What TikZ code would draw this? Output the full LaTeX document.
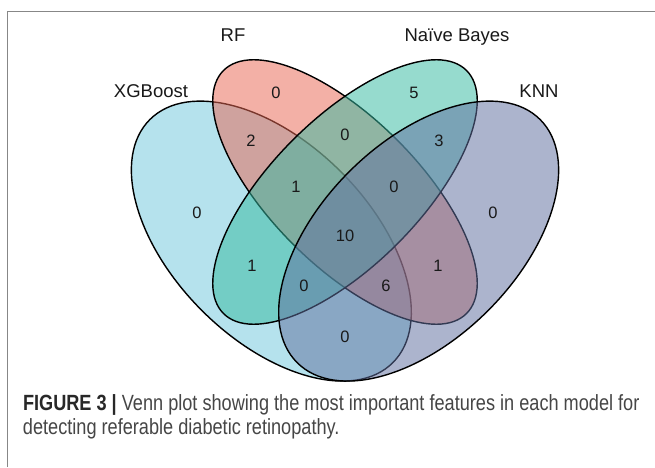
\documentclass[tikz,border=0pt]{standalone}
\usepackage{fontspec}
\setmainfont{Liberation Sans}
\newfontfamily\capfont[FakeStretch=0.825]{Liberation Sans}
\usepackage{color}
\usepackage{xcolor}
\usepackage{tikz}

\begin{document}
\begin{tikzpicture}[x=1pt,y=1pt,
  vset/.style={draw=drawColor,line width=1.4pt,line join=round,fill opacity=0.52},
  vlab/.style={text=drawColor,anchor=base,inner sep=0pt,outer sep=0pt,font=\fontsize{18.5}{20}\selectfont},
  vnum/.style={text=drawColor,inner sep=0pt,outer sep=0pt,font=\fontsize{16.5}{18}\selectfont}]
\definecolor{fillColor}{RGB}{255,255,255}
\path[use as bounding box,fill=fillColor] (0,0) rectangle (655,467);
\definecolor{frameColor}{RGB}{135,135,135}

\path[draw=frameColor,line width=1.5pt] (  7.50,  0.00) -- (  7.50,455.50) -- (655.00,455.50);
\begin{scope}
\definecolor{drawColor}{RGB}{0,0,0}
\definecolor{xgbColor}{RGB}{115,201,221}
\definecolor{rfColor}{RGB}{232,105,86}
\definecolor{nbColor}{RGB}{55,186,162}
\definecolor{knnColor}{RGB}{97,113,160}

\path[vset,fill=xgbColor,rotate around={-45:(271.35,225.90)}] (271.35,225.90) ellipse (171.85 and 98.20);

\path[vset,fill=rfColor,rotate around={-45:(345.00,275.00)}] (345.00,275.00) ellipse (171.85 and 73.65);

\path[vset,fill=nbColor,rotate around={45:(345.00,275.00)}] (345.00,275.00) ellipse (171.85 and 73.65);

\path[vset,fill=knnColor,rotate around={45:(418.65,225.90)}] (418.65,225.90) ellipse (171.85 and 98.20);
\end{scope}
\begin{scope}
\definecolor{drawColor}{RGB}{25,25,25}

\node[vlab] (labXGB) at (151.00,370.00) {XGBoost};

\node[vlab] (labRF) at (233.00,425.00) {RF};

\node[vlab] (labNB) at (457.00,425.00) {Naïve Bayes};

\node[vlab] (labKNN) at (539.00,370.00) {KNN};
\end{scope}
\begin{scope}
\definecolor{drawColor}{RGB}{25,25,25}

\node[vnum] (nR) at (276.00,374.00) {0};

\node[vnum] (nN) at (414.00,374.00) {5};

\node[vnum] (nXR) at (251.00,326.00) {2};

\node[vnum] (nRN) at (345.00,332.00) {0};

\node[vnum] (nNK) at (439.00,326.00) {3};

\node[vnum] (nXRN) at (296.00,280.00) {1};

\node[vnum] (nRNK) at (394.00,280.00) {0};

\node[vnum] (nX) at (197.00,254.00) {0};

\node[vnum] (nK) at (493.00,254.00) {0};

\node[vnum] (nXRNK) at (345.00,231.00) {10};

\node[vnum] (nXN) at (252.00,201.00) {1};

\node[vnum] (nRK) at (438.00,201.00) {1};

\node[vnum] (nXNK) at (304.00,181.00) {0};

\node[vnum] (nXRK) at (386.00,181.00) {6};

\node[vnum] (nXK) at (345.00,130.00) {0};
\end{scope}
\begin{scope}
\definecolor{capColor}{RGB}{70,70,70}
\definecolor{boldColor}{RGB}{40,40,40}

\node[text=capColor,anchor=base west,inner sep=0pt,outer sep=0pt,align=left,
  font=\capfont\fontsize{22}{24}\selectfont] (caption) at ( 23.00, 33.00)
  {\textcolor{boldColor}{\bfseries FIGURE 3 |} Venn plot showing the most important features in each model for\\
   detecting referable diabetic retinopathy.};
\end{scope}
\end{tikzpicture}
\end{document}
